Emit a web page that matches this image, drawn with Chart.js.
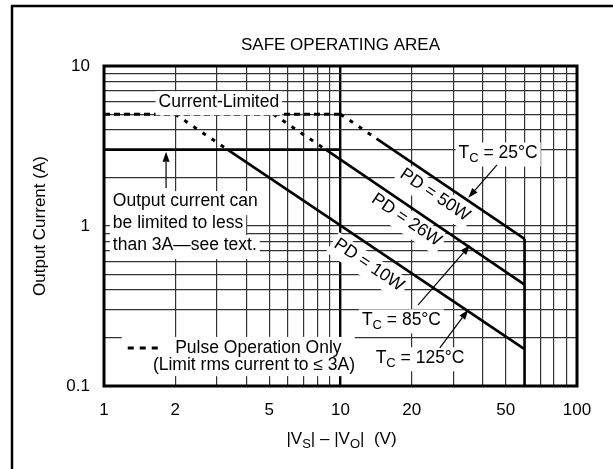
<!DOCTYPE html>
<html>
<head>
<meta charset="utf-8">
<script src="https://cdn.jsdelivr.net/npm/chart.js@4.4.1/dist/chart.umd.min.js"></script>
<style>
  body { margin: 0; background: #fff; }
</style>
</head>
<body>
<canvas id="soaChart" width="613" height="469"></canvas>
<script>
// log grid lines and the ones that carry a label
const xTicks = [1, 2, 3, 4, 5, 6, 7, 8, 9, 10, 20, 30, 40, 50, 60, 70, 80, 90, 100];
const xLabels = [1, 2, 5, 10, 20, 50, 100];
const yTicks = [0.1, 0.2, 0.3, 0.4, 0.5, 0.6, 0.7, 0.8, 0.9, 1, 2, 3, 4, 5, 6, 7, 8, 9, 10];
const yLabels = [0.1, 1, 10];

// solid limits (V, A)
const limitV = [1, 10];
const limitI = [3, 3];
const pd50V = [14.2, 60];
const pd50I = [3.52, 0.83];
const pd26V = [8.67, 60];
const pd26I = [3, 0.43];
const pd10V = [3.33, 60];
const pd10I = [3, 0.17];
const vmaxV = [60, 60];
const vmaxI = [0.1, 0.83];

// pulse operation only (dashed)
const pulseV = [1, 10];
const pulseI = [5, 5];
const pulse50V = [10, 14.2];
const pulse50I = [5, 3.52];
const pulse26V = [5.2, 8.67];
const pulse26I = [5, 3];
const pulse10V = [2, 3.33];
const pulse10I = [5, 3];

const FONT = '"Liberation Sans", Arial, sans-serif';
const chartDOM = document.getElementById("soaChart");

function pts(vs, is) {
  return vs.map((v, i) => ({ x: v, y: is[i] }));
}

function solid(vs, is) {
  return { data: pts(vs, is), borderColor: "#000", borderWidth: 2.6, showLine: true, pointRadius: 0 };
}

function dashed(vs, is, dash) {
  return { data: pts(vs, is), borderColor: "#000", borderWidth: 3, borderDash: dash, showLine: true, pointRadius: 0 };
}

// text with subscripts: parts = [[text, isSub], ...]
function richText(ctx, parts, x, y, size, align, bg) {
  const subSize = Math.round(size * 0.75);
  let w = 0;
  parts.forEach(p => {
    ctx.font = (p[1] ? subSize : size) + "px " + FONT;
    w += ctx.measureText(p[0]).width;
  });
  let left = align === "center" ? x - w / 2 : x;
  if (bg) {
    ctx.fillStyle = "#fff";
    ctx.fillRect(left - 3, y - size * 0.6, w + 6, size * 1.2 + 3);
  }
  ctx.fillStyle = "#000";
  ctx.textAlign = "left";
  ctx.textBaseline = "middle";
  parts.forEach(p => {
    ctx.font = (p[1] ? subSize : size) + "px " + FONT;
    ctx.fillText(p[0], left, p[1] ? y + size * 0.32 : y);
    left += ctx.measureText(p[0]).width;
  });
  return w;
}

function arrow(ctx, x1, y1, x2, y2) {
  const a = Math.atan2(y2 - y1, x2 - x1);
  const len = 10, half = 3.5;
  const bx = x2 - len * Math.cos(a), by = y2 - len * Math.sin(a);
  ctx.strokeStyle = "#000";
  ctx.fillStyle = "#000";
  ctx.lineWidth = 1.2;
  ctx.setLineDash([]);
  ctx.beginPath();
  ctx.moveTo(x1, y1);
  ctx.lineTo(bx, by);
  ctx.stroke();
  ctx.beginPath();
  ctx.moveTo(x2, y2);
  ctx.lineTo(bx + half * Math.sin(a), by - half * Math.cos(a));
  ctx.lineTo(bx - half * Math.sin(a), by + half * Math.cos(a));
  ctx.closePath();
  ctx.fill();
}

const framePlugin = {
  id: "frame",
  beforeDraw(chart) {
    const ctx = chart.ctx;
    ctx.save();
    ctx.fillStyle = "#fff";
    ctx.fillRect(0, 0, chart.width, chart.height);
    ctx.strokeStyle = "#000";
    ctx.lineWidth = 2.5;
    ctx.strokeRect(12, 6, chart.width + 20, chart.height + 20);
    ctx.restore();
  }
};

const notesPlugin = {
  id: "notes",
  afterDatasetsDraw(chart) {
    const ctx = chart.ctx;
    const xs = chart.scales.x, ys = chart.scales.y;
    const px = v => xs.getPixelForValue(v);
    const py = v => ys.getPixelForValue(v);
    const area = chart.chartArea;
    const size = 17.5;
    ctx.save();

    // Current-Limited
    richText(ctx, [["Current-Limited", 0]], px(3.06), py(5.98), size, "center", true);

    // Output current note
    const noteX = px(1.09), noteY = py(1.42);
    ["Output current can", "be limited to less", "than 3A\u2014see text."].forEach((t, i) => {
      richText(ctx, [[t, 0]], noteX, noteY + i * 22, size, "left", true);
    });
    arrow(ctx, px(1.83), py(1.73), px(1.83), py(3) + 2);

    // PD labels along the lines
    const ang = Math.atan2(py(0.1) - py(1), px(10) - px(1));
    [["PD = 50W", 25.1, 1.56], ["PD = 26W", 19.0, 1.09], ["PD = 10W", 13.2, 0.57]].forEach(l => {
      ctx.save();
      ctx.translate(px(l[1]), py(l[2]));
      ctx.rotate(ang);
      richText(ctx, [[l[0], 0]], 0, 0, size, "center", true);
      ctx.restore();
    });

    // case temperatures
    richText(ctx, [["T", 0], ["C", 1], [" = 25\u00b0C", 0]], px(46.4), py(2.86), size, "center", true);
    arrow(ctx, px(45.9), py(2.41), px(34.7), py(1.5));
    richText(ctx, [["T", 0], ["C", 1], [" = 85\u00b0C", 0]], px(18.1), py(0.259), size, "center", true);
    arrow(ctx, px(21.3), py(0.321), px(35.3), py(0.76));
    richText(ctx, [["T", 0], ["C", 1], [" = 125\u00b0C", 0]], px(21.7), py(0.150), size, "center", true);
    arrow(ctx, px(26.3), py(0.173), px(34.7), py(0.30));

    // pulse legend
    const lx = px(1.26), ly1 = py(0.173), ly2 = py(0.135);
    ctx.fillStyle = "#fff";
    ctx.fillRect(lx - 6, ly1 - 11, px(11.5) - lx + 6, ly2 - ly1 + 22);
    ctx.strokeStyle = "#000";
    ctx.lineWidth = 3;
    ctx.setLineDash([6, 6]);
    ctx.beginPath();
    ctx.moveTo(lx, ly1);
    ctx.lineTo(lx + 30, ly1);
    ctx.stroke();
    ctx.setLineDash([]);
    richText(ctx, [["Pulse Operation Only", 0]], px(2.0), ly1, size, "left", false);
    richText(ctx, [["(Limit rms current to \u2264 3A)", 0]], px(1.61), ly2, size, "left", false);

    // plot border
    ctx.strokeStyle = "#000";
    ctx.lineWidth = 3;
    ctx.strokeRect(area.left, area.top, area.right - area.left, area.bottom - area.top);

    // titles
    const midX = (area.left + area.right) / 2;
    richText(ctx, [["SAFE OPERATING AREA", 0]], midX, 45, 17, "center", false);
    richText(ctx, [["|V", 0], ["S", 1], ["| \u2013 |V", 0], ["O", 1], ["|  (V)", 0]], midX + 1, 439, 17, "center", false);
    ctx.save();
    ctx.translate(40, (area.top + area.bottom) / 2);
    ctx.rotate(-Math.PI / 2);
    richText(ctx, [["Output Current (A)", 0]], 0, 0, 17, "center", false);
    ctx.restore();

    ctx.restore();
  }
};

const config = {
  type: "scatter",
  data: {
    datasets: [
      solid(limitV, limitI),
      solid(pd50V, pd50I),
      solid(pd26V, pd26I),
      solid(pd10V, pd10I),
      solid(vmaxV, vmaxI),
      dashed(pulseV, pulseI, [6, 4]),
      dashed(pulse50V, pulse50I, [4, 7]),
      dashed(pulse26V, pulse26I, [4, 7]),
      dashed(pulse10V, pulse10I, [4, 7])
    ]
  },
  options: {
    responsive: false,
    animation: false,
    layout: { padding: { top: 66, right: 36, left: 0, bottom: 0 } },
    plugins: { legend: { display: false }, tooltip: { enabled: false } },
    scales: {
      x: {
        type: "logarithmic",
        min: 1,
        max: 100,
        afterBuildTicks: scale => { scale.ticks = xTicks.map(v => ({ value: v })); },
        afterFit: scale => { scale.height = 83; },
        ticks: {
          autoSkip: false,
          maxRotation: 0,
          padding: 14,
          color: "#000",
          font: { family: FONT, size: 17 },
          callback: v => (xLabels.includes(v) ? String(v) : "")
        },
        grid: {
          drawTicks: false,
          color: c => (c.tick && c.tick.value === 10 ? "#000" : "#333"),
          lineWidth: c => (c.tick && c.tick.value === 10 ? 2.4 : 1.2)
        },
        border: { display: false }
      },
      y: {
        type: "logarithmic",
        min: 0.1,
        max: 10,
        afterBuildTicks: scale => { scale.ticks = yTicks.map(v => ({ value: v })); },
        afterFit: scale => { scale.width = 104; },
        ticks: {
          autoSkip: false,
          padding: 14,
          color: "#000",
          font: { family: FONT, size: 17 },
          callback: v => (yLabels.includes(v) ? String(v) : "")
        },
        grid: {
          drawTicks: false,
          color: "#333",
          lineWidth: 1.2
        },
        border: { display: false }
      }
    }
  },
  plugins: [framePlugin, notesPlugin]
};

const myChart = new Chart(chartDOM, config);
</script>
</body>
</html>
